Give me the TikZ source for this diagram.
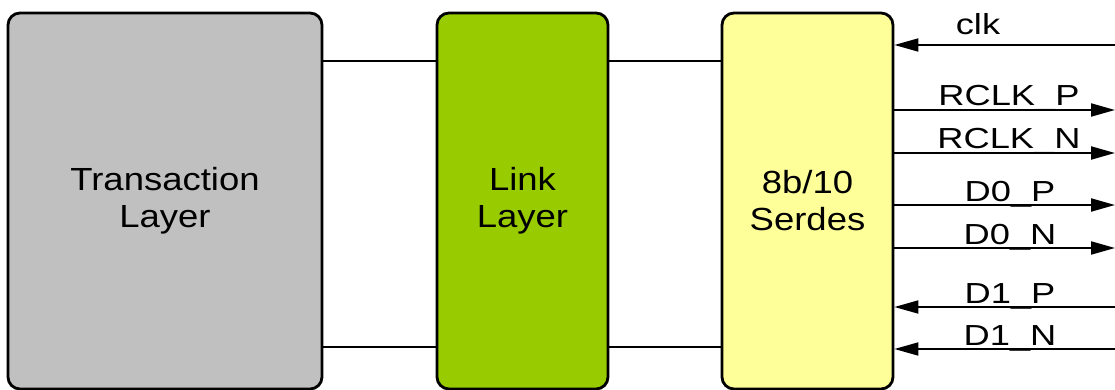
\documentclass[tikz,border=0pt]{standalone}
\usepackage{fontspec}
\setmainfont{Liberation Sans}
\newfontfamily\boxfont[FakeStretch=1.14]{Liberation Sans}
\newfontfamily\sigfont[FakeStretch=1.25]{Liberation Sans}
\usetikzlibrary{arrows.meta}
\definecolor{tgray}{HTML}{C0C0C0}
\definecolor{lgreen}{HTML}{99CC00}
\definecolor{syellow}{HTML}{FFFF99}
\tikzset{
  blockbox/.style={draw=black, line width=2.8pt, rounded corners=12pt,
    minimum height=376pt, inner sep=0pt, align=center,
    font=\boxfont\fontsize{32}{37}\selectfont},
  conn/.style={draw=black, line width=2.3pt},
  sigline/.style={draw=black, line width=2pt},
  tipR/.style={-{Triangle[length=24pt,width=13pt]}},
  tipL/.style={{Triangle[length=24pt,width=13pt]}-},
  siglabel/.style={anchor=base, inner sep=0pt, font=\sigfont\fontsize{29}{34}\selectfont}
}
\begin{document}
\begin{tikzpicture}[x=1pt,y=-1pt]
\useasboundingbox (0,0) rectangle (1115,390);
\node[blockbox, fill=tgray, minimum width=314pt] (trans) at (165,201) {Transaction\\Layer};
\node[blockbox, fill=lgreen, minimum width=171pt] (link) at (522.5,201) {Link\\Layer};
\node[blockbox, fill=syellow, minimum width=171pt] (serdes) at (807.5,201) {8b/10\\Serdes};
\coordinate (ytop) at (0,61);
\coordinate (ybot) at (0,347);
\draw[conn] (trans.east |- ytop) -- (link.west |- ytop);
\draw[conn] (trans.east |- ybot) -- (link.west |- ybot);
\draw[conn] (link.east |- ytop) -- (serdes.west |- ytop);
\draw[conn] (link.east |- ybot) -- (serdes.west |- ybot);
\coordinate (pclk) at (1115,45);
\coordinate (prp) at (1115,110);
\coordinate (prn) at (1115,153);
\coordinate (pdp) at (1115,205);
\coordinate (pdn) at (1115,248);
\coordinate (pep) at (1115,307);
\coordinate (pen) at (1115,349);
\draw[sigline, tipL] (serdes.east |- pclk) -- (pclk);
\draw[sigline, tipR] (serdes.east |- prp) -- (prp);
\draw[sigline, tipR] (serdes.east |- prn) -- (prn);
\draw[sigline, tipR] (serdes.east |- pdp) -- (pdp);
\draw[sigline, tipR] (serdes.east |- pdn) -- (pdn);
\draw[sigline, tipL] (serdes.east |- pep) -- (pep);
\draw[sigline, tipL] (serdes.east |- pen) -- (pen);
\node[siglabel] (lclk) at (978,35) {clk};
\node[siglabel] (lrp) at (1009,106) {RCLK\_P};
\node[siglabel] (lrn) at (1009,149) {RCLK\_N};
\node[siglabel] (ldp) at (1010,201) {D0\_P};
\node[siglabel] (ldn) at (1010,244) {D0\_N};
\node[siglabel] (lep) at (1010,303) {D1\_P};
\node[siglabel] (len) at (1010,345) {D1\_N};
\end{tikzpicture}
\end{document}
